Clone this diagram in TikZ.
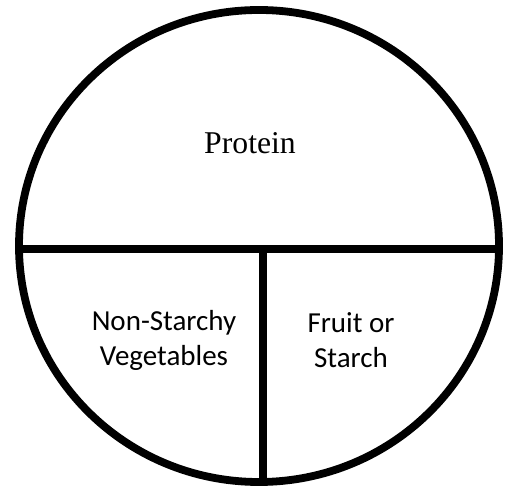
\documentclass[tikz,border=0pt]{standalone}
\usepackage{fontspec}
\setmainfont{Liberation Serif}
\newfontfamily\calib{Carlito}
\begin{document}
\begin{tikzpicture}[x=1pt,y=1pt,
  thick line/.style={line width=7.8pt},
  serif label/.style={inner sep=0pt,font=\fontsize{31.7}{38}\selectfont},
  sans label/.style={inner sep=0pt,align=center,font=\calib\fontsize{29}{35}\selectfont}]
\useasboundingbox (0,0) rectangle (510,489);
\coordinate (c) at (259,243);
\coordinate (L) at (19,240);
\coordinate (R) at (499,240);
\coordinate (M) at (263,240);
\coordinate (B) at (263,7);
\draw[thick line] (c) ellipse [x radius=240, y radius=236];
\draw[thick line] (L) -- (R);
\draw[thick line] (M) -- (B);
\node[serif label, anchor=base] (protein) at (250,335) {Protein};
\node[sans label] (veg) at (164,149) {Non-Starchy\\Vegetables};
\node[sans label] (fruit) at (351,149) {Fruit or\\Starch};
\end{tikzpicture}
\end{document}
